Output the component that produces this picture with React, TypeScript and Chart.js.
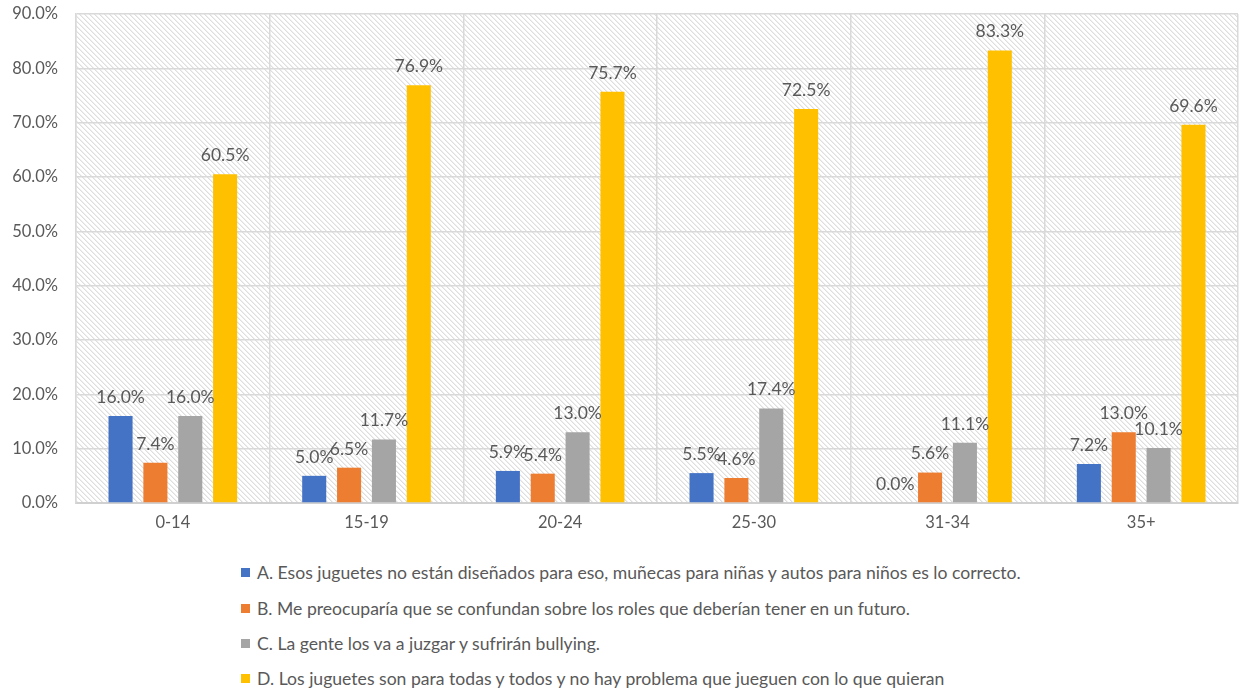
import React, { useEffect, useRef } from "react";
import { Chart, registerables } from "chart.js";

Chart.register(...registerables);

const categories = ["0-14", "15-19", "20-24", "25-30", "31-34", "35+"];
const seriesNames = [
  "A. Esos juguetes no están diseñados para eso, muñecas para niñas y autos para niños es lo correcto.",
  "B. Me preocuparía que se confundan sobre los roles que deberían tener en un futuro.",
  "C. La gente los va a juzgar y sufrirán bullying.",
  "D. Los juguetes son para todas y todos y no hay problema que jueguen con lo que quieran",
];
const seriesA = [16.0, 5.0, 5.9, 5.5, 0.0, 7.2];
const seriesB = [7.4, 6.5, 5.4, 4.6, 5.6, 13.0];
const seriesC = [16.0, 11.7, 13.0, 17.4, 11.1, 10.1];
const seriesD = [60.5, 76.9, 75.7, 72.5, 83.3, 69.6];
const colors = ["#4472C4", "#ED7D31", "#A5A5A5", "#FFC000"];
const yTicks = [0, 10, 20, 30, 40, 50, 60, 70, 80, 90];

const FONT = "Lato, 'Liberation Sans', sans-serif";
const TEXT = "#595959";

function makePattern(ctx: CanvasRenderingContext2D) {
  const c = document.createElement("canvas");
  c.width = 5;
  c.height = 5;
  const g = c.getContext("2d")!;
  g.fillStyle = "#ffffff";
  g.fillRect(0, 0, 5, 5);
  g.fillStyle = "#dedede";
  for (let i = 0; i < 5; i++) g.fillRect(i, i, 1, 1);
  g.fillStyle = "#efefef";
  for (let i = 0; i < 5; i++) g.fillRect((i + 1) % 5, i, 1, 1);
  return ctx.createPattern(c, "repeat");
}

const hatchPlugin = {
  id: "hatch",
  beforeDraw(chart: any) {
    const { ctx, chartArea } = chart;
    const p = makePattern(ctx);
    if (!p) return;
    ctx.save();
    ctx.fillStyle = p;
    ctx.fillRect(chartArea.left, chartArea.top, chartArea.right - chartArea.left, chartArea.bottom - chartArea.top);
    ctx.restore();
  },
};

const labelPlugin = {
  id: "barLabels",
  afterDatasetsDraw(chart: any) {
    const { ctx } = chart;
    ctx.save();
    ctx.font = `17.5px ${FONT}`;
    ctx.fillStyle = TEXT;
    ctx.textAlign = "center";
    ctx.textBaseline = "bottom";
    chart.data.datasets.forEach((ds: any, i: number) => {
      const meta = chart.getDatasetMeta(i);
      meta.data.forEach((bar: any, j: number) => {
        const v = ds.data[j] as number;
        ctx.fillText(v.toFixed(1) + "%", bar.x, bar.y - 10);
      });
    });
    ctx.restore();
  },
};

export default function App() {
  const ref = useRef<HTMLCanvasElement | null>(null);
  useEffect(() => {
    if (!ref.current) return;
    const data = [seriesA, seriesB, seriesC, seriesD];
    const chart = new Chart(ref.current, {
      type: "bar",
      data: {
        labels: categories,
        datasets: data.map((d, i) => ({
          label: seriesNames[i],
          data: d,
          backgroundColor: colors[i],
          categoryPercentage: 0.72,
          barPercentage: 0.69,
        })),
      },
      options: {
        animation: false,
        responsive: false,
        maintainAspectRatio: false,
        layout: { padding: { top: 14, right: 3, left: 0, bottom: 0 } },
        plugins: { legend: { display: false }, tooltip: { enabled: false } },
        scales: {
          x: {
            grid: { offset: true, color: "#d9d9d9", lineWidth: 1.5, drawTicks: false },
            border: { color: "#d0d0d0", width: 2 },
            ticks: { color: TEXT, font: { family: FONT, size: 16.5 }, padding: 10 },
            afterFit: (s: any) => {
              s.height = 42;
              s.paddingLeft = 0;
              s.paddingRight = 0;
            },
          },
          y: {
            min: 0,
            max: 90,
            afterBuildTicks: (s: any) => { s.ticks = yTicks.map((v) => ({ value: v })); },
            grid: { color: "#d9d9d9", lineWidth: 1.5, drawTicks: false },
            border: { display: true, color: "#d9d9d9", width: 1.5 },
            ticks: {
              color: TEXT,
              font: { family: FONT, size: 16.5 },
              padding: 18,
              callback: (v: any) => Number(v).toFixed(1) + "%",
            },
            afterFit: (s: any) => {
              s.width = 76;
              s.paddingTop = 0;
              s.paddingBottom = 0;
            },
          },
        },
      },
      plugins: [hatchPlugin, labelPlugin],
    });
    return () => chart.destroy();
  }, []);

  const legendTops = [572, 608, 643, 678];
  return (
    <div style={{ position: "fixed", left: 0, top: 0, width: 1241, height: 689, background: "#fff", fontFamily: FONT }}>
      <canvas ref={ref} width={1241} height={545} style={{ display: "block" }} />
      {seriesNames.map((n, i) => (
        <div
          key={i}
          style={{
            position: "absolute",
            left: 241,
            top: legendTops[i] - 11,
            height: 22,
            display: "flex",
            alignItems: "center",
            whiteSpace: "nowrap",
            fontSize: 17.6,
            color: TEXT,
          }}
        >
          <span style={{ display: "inline-block", width: 9, height: 9, background: colors[i], marginRight: 7 }} />
          <span>{n}</span>
        </div>
      ))}
    </div>
  );
}
